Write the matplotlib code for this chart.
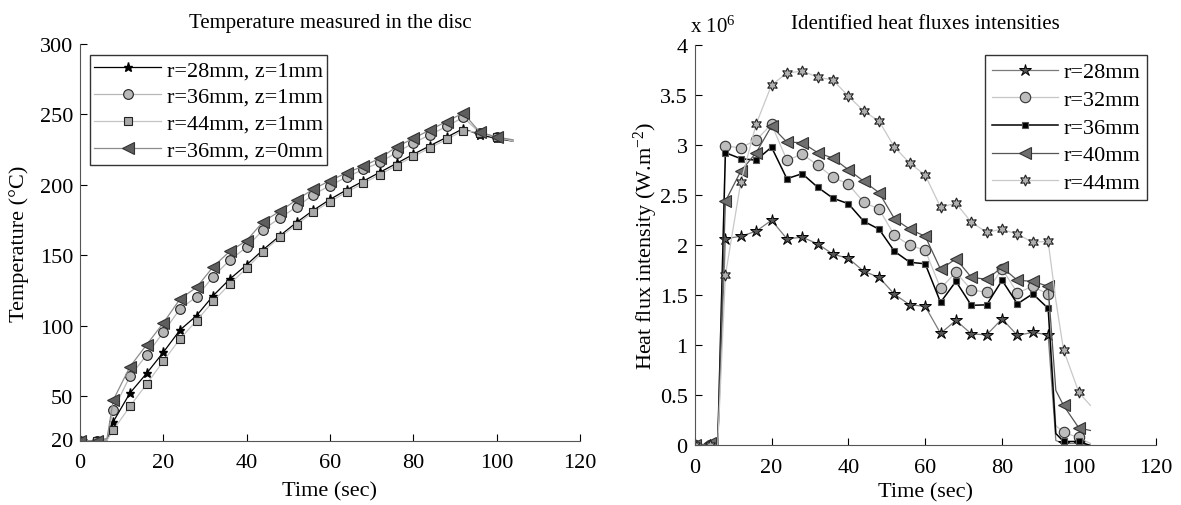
import matplotlib
matplotlib.use("Agg")
import matplotlib.pyplot as plt

plt.rcParams['font.family'] = ['Liberation Serif', 'DejaVu Serif']
plt.rcParams['mathtext.fontset'] = 'custom'
plt.rcParams['mathtext.rm'] = 'Liberation Serif'
plt.rcParams['mathtext.it'] = 'Liberation Serif:italic'

# ---- left panel: temperatures (deg C) ----
t_temp = [0, 4, 6.5, 8, 12, 16, 20, 24, 28, 32, 36, 40, 44, 48, 52, 56, 60,
          64, 68, 72, 76, 80, 84, 88, 92, 96, 100, 104]
temp_r28_z1 = [18.5, 18.5, 19, 32, 52.3, 66.3, 81.2, 97, 107.3, 121.5, 133.3, 143.3,
               154.1, 164, 173.4, 182, 189.7, 196.5, 202.7, 209, 215.3, 221.7,
               227.8, 233.8, 240, 235.5, 233, 231]
temp_r36_z1 = [18.5, 18.5, 20, 40.3, 64.2, 79.3, 95.4, 112, 120.7, 135, 146.8, 155.8,
               168.3, 176.6, 184.4, 193, 199.6, 205.5, 211, 216, 223, 229.7,
               235.6, 241.5, 248, 237, 234, 231.5]
temp_r44_z1 = [18.5, 18.5, 19, 26, 42.9, 58.7, 74.9, 90.7, 103.7, 117.5, 129.8, 140.9,
               152.7, 162.9, 171.9, 180.7, 188.2, 194.9, 201.2, 207.4, 213.8, 220.2,
               226.3, 232.3, 238.6, 237, 234, 231]
temp_r36_z0 = [18.5, 18.5, 20, 47.4, 71, 86.6, 102, 119, 127.4, 142, 153, 160.5,
               174, 181.4, 189.4, 197, 203, 208.6, 213.3, 219, 227, 233,
               239, 245, 251, 237.5, 234, 232]
temp_labels = ['r=28mm, z=1mm', 'r=36mm, z=1mm', 'r=44mm, z=1mm', 'r=36mm, z=0mm']

# ---- right panel: heat flux (x 1e6 W/m2) ----
t_flux = [0, 4, 6, 8, 12, 16, 20, 24, 28, 32, 36, 40, 44, 48, 52, 56, 60,
          64, 68, 72, 76, 80, 84, 88, 92, 94, 96, 100, 103]
flux_r28 = [0, 0, 0, 2.065, 2.09, 2.14, 2.25, 2.065, 2.08, 2.015, 1.91, 1.87, 1.74,
            1.68, 1.51, 1.405, 1.39, 1.12, 1.25, 1.115, 1.105, 1.265, 1.10, 1.13,
            1.105, 0.05, 0.02, 0.02, 0.0]
flux_r32 = [0, 0, 0, 2.99, 2.975, 3.05, 3.21, 2.85, 2.91, 2.80, 2.68, 2.61, 2.43,
            2.36, 2.10, 2.0, 1.95, 1.57, 1.73, 1.555, 1.53, 1.765, 1.525, 1.59,
            1.51, 0.2, 0.13, 0.08, 0.02]
flux_r36 = [0, 0, 0, 2.925, 2.865, 2.85, 2.98, 2.665, 2.715, 2.58, 2.47, 2.415, 2.24,
            2.16, 1.94, 1.83, 1.815, 1.43, 1.64, 1.40, 1.405, 1.65, 1.415, 1.515,
            1.37, 0.12, 0.04, 0.04, 0.0]
flux_r40 = [0, 0.02, 0, 2.44, 2.74, 2.925, 3.19, 3.03, 3.025, 2.925, 2.87, 2.755, 2.64,
            2.525, 2.265, 2.16, 2.09, 1.76, 1.865, 1.68, 1.66, 1.78, 1.65, 1.64,
            1.59, 0.55, 0.40, 0.175, 0.15]
flux_r44 = [0, 0, 0, 1.70, 2.63, 3.21, 3.60, 3.72, 3.74, 3.68, 3.65, 3.49, 3.34,
            3.24, 2.98, 2.82, 2.70, 2.38, 2.42, 2.23, 2.13, 2.16, 2.11, 2.03,
            2.04, 1.45, 0.955, 0.53, 0.40]
flux_labels = ['r=28mm', 'r=32mm', 'r=36mm', 'r=40mm', 'r=44mm']

fig = plt.figure(figsize=(11.81, 5.06), dpi=100)
ax1 = fig.add_axes([0.0677, 0.1265, 0.4233, 0.7845])
ax2 = fig.add_axes([0.5882, 0.1176, 0.3904, 0.7914])

mk_temp = [i for i in range(len(t_temp)) if t_temp[i] not in (6.5, 104)]
mk_flux = [i for i in range(len(t_flux)) if t_flux[i] not in (6, 94, 103)]

# left
ax1.plot(t_temp, temp_r28_z1, color='k', lw=0.9, marker='*', ms=6.5,
         mfc='k', mec='k', markevery=mk_temp, label=temp_labels[0])
ax1.plot(t_temp, temp_r36_z1, color='#b8b8b8', lw=0.9, marker='o', ms=7,
         mfc='#b8b8b8', mec='#222222', mew=0.8, markevery=mk_temp, label=temp_labels[1])
ax1.plot(t_temp, temp_r44_z1, color='#c4c4c4', lw=0.9, marker='s', ms=5.5,
         mfc='#a8a8a8', mec='#222222', mew=0.8, markevery=mk_temp, label=temp_labels[2])
ax1.plot(t_temp, temp_r36_z0, color='#8c8c8c', lw=0.9, marker='<', ms=8,
         mfc='#5e5e5e', mec='#333333', mew=0.8, markevery=mk_temp, label=temp_labels[3])

ax1.set_xlim(0, 120)
ax1.set_ylim(18.3, 300)
ax1.set_xticks([0, 20, 40, 60, 80, 100, 120])
ax1.set_yticks([20, 50, 100, 150, 200, 250, 300])
ax1.set_xlabel('Time (sec)', fontsize=16, labelpad=6)
ax1.set_ylabel('Temperature (°C)', fontsize=16, labelpad=8)
ax1.set_title('Temperature measured in the disc', fontsize=15, pad=12)
ax1.legend(loc='upper left', bbox_to_anchor=(0.02, 0.972), fontsize=16,
           handlelength=3.0, frameon=True, fancybox=False, edgecolor='k',
           borderpad=0.2, labelspacing=0.28, handletextpad=0.25, borderaxespad=0)

# right
ax2.plot(t_flux, flux_r28, color='#7a7a7a', lw=0.9, marker='*', ms=9,
         mfc='#555555', mec='k', mew=0.7, markevery=mk_flux, label=flux_labels[0])
ax2.plot(t_flux, flux_r32, color='#c6c6c6', lw=0.9, marker='o', ms=7.5,
         mfc='#bdbdbd', mec='#333333', mew=0.8, markevery=mk_flux, label=flux_labels[1])
ax2.plot(t_flux, flux_r36, color='k', lw=1.1, marker='s', ms=5,
         mfc='k', mec='#555555', mew=0.8, markevery=mk_flux, label=flux_labels[2])
ax2.plot(t_flux, flux_r40, color='#555555', lw=0.9, marker='<', ms=9,
         mfc='#6e6e6e', mec='#333333', mew=0.8, markevery=mk_flux, label=flux_labels[3])
ax2.plot(t_flux, flux_r44, color='#c8c8c8', lw=0.9, marker=(6, 1, 0), ms=8,
         mfc='#b0b0b0', mec='#222222', mew=0.8, markevery=mk_flux, label=flux_labels[4])

ax2.set_xlim(0, 120)
ax2.set_ylim(0, 4)
ax2.set_xticks([0, 20, 40, 60, 80, 100, 120])
ax2.set_yticks([0, 0.5, 1, 1.5, 2, 2.5, 3, 3.5, 4])
ax2.set_yticklabels(['0', '0.5', '1', '1.5', '2', '2.5', '3', '3.5', '4'])
ax2.set_xlabel('Time (sec)', fontsize=16, labelpad=4)
ax2.set_ylabel('Heat flux intensity (W.m$^{-2}$)', fontsize=16, labelpad=0)
ax2.set_title('Identified heat fluxes intensities', fontsize=15, pad=12)
ax2.text(-0.01, 1.02, 'x 10$^6$', transform=ax2.transAxes, fontsize=15,
         ha='left', va='bottom')
ax2.legend(loc='upper right', bbox_to_anchor=(0.982, 0.975), fontsize=16,
           handlelength=3.0, frameon=True, fancybox=False, edgecolor='k',
           borderpad=0.3, labelspacing=0.32, handletextpad=0.25, borderaxespad=0)

for ax in (ax1, ax2):
    ax.spines['top'].set_visible(False)
    ax.spines['right'].set_visible(False)
    ax.spines['left'].set_color('#555555')
    ax.spines['bottom'].set_color('#555555')
    ax.tick_params(direction='in', length=5, labelsize=16, colors='k', pad=5)
    ax.tick_params(axis='x', pad=9)
    ax.get_legend().get_frame().set_linewidth(1.0)

fig.savefig('out.png', dpi=100)
